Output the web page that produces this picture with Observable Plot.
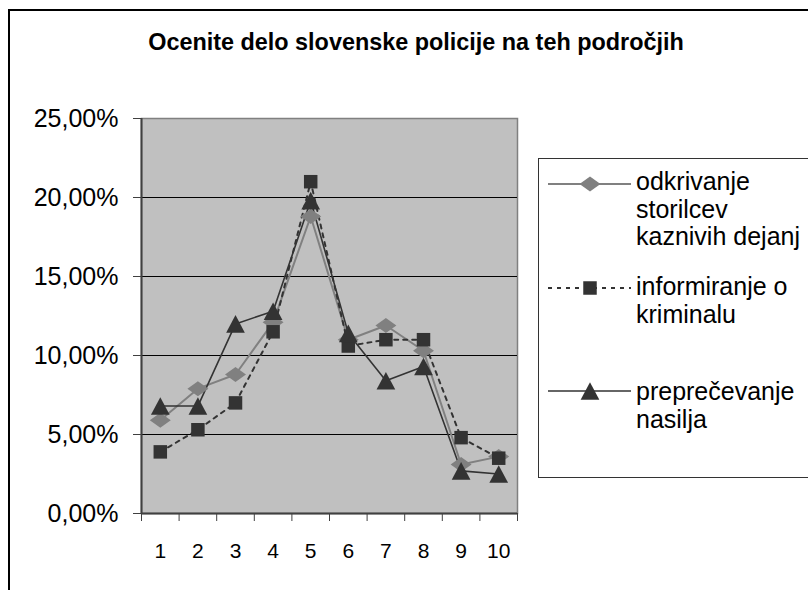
<!DOCTYPE html>
<html>
<head>
<meta charset="utf-8">
<script src="https://cdn.jsdelivr.net/npm/d3@7"></script>
<script src="https://cdn.jsdelivr.net/npm/@observablehq/plot@0.6"></script>
<style>
  html, body { margin: 0; padding: 0; background: #fff; }
  #wrap { position: relative; width: 808px; height: 590px; overflow: hidden; font-family: "Liberation Sans", Arial, sans-serif; }
  #outer { position: absolute; left: 8px; top: 9px; width: 1000px; height: 1000px; border: 2px solid #000; box-sizing: border-box; }
  #chart { position: absolute; left: 0; top: 0; }
  #title { position: absolute; left: 116px; width: 600px; top: 29px; text-align: center; font-weight: bold; font-size: 23.4px; color: #000; white-space: nowrap; }
  #legend { position: absolute; left: 538px; top: 158px; width: 400px; height: 320px; border: 1.5px solid #333; box-sizing: border-box; background: #fff; }
  .item { position: absolute; left: 0; }
  .item svg { position: absolute; left: 0; top: 0; overflow: visible; }
  .item .txt { position: absolute; left: 97px; top: 0; font-size: 25px; line-height: 27.5px; color: #000; white-space: nowrap; }
</style>
</head>
<body>
<div id="wrap">
  <div id="outer"></div>
  <div id="chart"></div>
  <div id="title"></div>
  <div id="legend"></div>
</div>
<script>
// ---- data ----
const title = "Ocenite delo slovenske policije na teh področjih";
const categories = [1, 2, 3, 4, 5, 6, 7, 8, 9, 10];
const odkrivanje = [5.9, 7.9, 8.8, 12.1, 18.8, 11.0, 11.9, 10.3, 3.1, 3.6];
const informiranje = [3.9, 5.3, 7.0, 11.5, 21.0, 10.6, 11.0, 11.0, 4.8, 3.5];
const preprecevanje = [6.8, 6.8, 12.0, 12.8, 19.8, 11.4, 8.4, 9.3, 2.7, 2.5];
const seriesNames = [
  ["odkrivanje", "storilcev", "kaznivih dejanj"],
  ["informiranje o", "kriminalu"],
  ["preprečevanje", "nasilja"]
];
const yTicks = [0, 5, 10, 15, 20, 25];
const xTickLabels = categories;

// ---- custom symbols (Excel-like) ----
const diamondW = { draw(ctx, size) { const s = Math.sqrt(size), w = 0.74 * s, h = 0.53 * s;
  ctx.moveTo(0, -h); ctx.lineTo(w, 0); ctx.lineTo(0, h); ctx.lineTo(-w, 0); ctx.closePath(); } };
const squareS = { draw(ctx, size) { const s = Math.sqrt(size), a = 0.476 * s;
  ctx.moveTo(-a, -a); ctx.lineTo(a, -a); ctx.lineTo(a, a); ctx.lineTo(-a, a); ctx.closePath(); } };
const triangleB = { draw(ctx, size) { const s = Math.sqrt(size), w = 0.66 * s, h = 0.62 * s;
  ctx.moveTo(0, -h); ctx.lineTo(w, h); ctx.lineTo(-w, h); ctx.closePath(); } };

const styles = [
  { values: odkrivanje, color: "#808080", dash: null, width: 2, symbol: diamondW },
  { values: informiranje, color: "#333333", dash: "4,5", width: 2, symbol: squareS },
  { values: preprecevanje, color: "#333333", dash: null, width: 1.6, symbol: triangleB }
];

const tables = styles.map((s, i) => categories.map((c, j) => ({ x: c, y: s.values[j], series: i })));

const R = 8;
const marks = [
  Plot.frame({ fill: "#c0c0c0", stroke: "#808080", strokeWidth: 1.5 }),
  Plot.gridY({ ticks: [5, 10, 15, 20], stroke: "#000", strokeOpacity: 1, strokeWidth: 1 }),
  Plot.ruleX([0.5], { stroke: "#404040", strokeWidth: 2 }),
  Plot.ruleY([0], { stroke: "#404040", strokeWidth: 2 }),
  Plot.axisY({ ticks: yTicks, tickSize: 8, tickPadding: 15, fontSize: 25, stroke: "#404040",
    tickFormat: d => d.toFixed(2).replace(".", ",") + "%", label: null }),
  Plot.axisX({ ticks: d3.range(0.5, 11, 1), tickSize: 8, tickFormat: () => "", stroke: "#404040", label: null }),
  Plot.axisX({ ticks: xTickLabels, tickSize: 0, tickPadding: 30, fontSize: 21, tickFormat: d => String(d), label: null })
];
styles.forEach((s, i) => {
  marks.push(Plot.line(tables[i], { x: "x", y: "y", stroke: s.color, strokeWidth: s.width,
    strokeDasharray: s.dash ?? undefined, curve: "linear" }));
});
styles.forEach((s, i) => {
  marks.push(Plot.dot(tables[i], { x: "x", y: "y", r: R, symbol: s.symbol, fill: s.color, stroke: "none" }));
});

const chart = Plot.plot({
  width: 808,
  height: 590,
  marginLeft: 141,
  marginRight: 291,
  marginTop: 118,
  marginBottom: 77,
  x: { domain: [0.5, 10.5], axis: null },
  y: { domain: [0, 25], axis: null },
  style: { background: "transparent", fontFamily: "'Liberation Sans', Arial, sans-serif", color: "#000", overflow: "visible" },
  marks
});
document.getElementById("chart").appendChild(chart);
document.getElementById("title").textContent = title;

// ---- legend ----
const legend = document.getElementById("legend");
const itemTops = [9, 114, 219];
const markerOffsets = [16, 15, 13];
styles.forEach((s, i) => {
  const item = document.createElement("div");
  item.className = "item";
  item.style.top = itemTops[i] + "px";
  const svg = d3.create("svg").attr("width", 100).attr("height", 30);
  const my = markerOffsets[i];
  svg.append("line").attr("x1", 9).attr("x2", 92).attr("y1", my).attr("y2", my)
    .attr("stroke", s.color).attr("stroke-width", s.width).attr("stroke-dasharray", s.dash);
  svg.append("path").attr("transform", `translate(51,${my})`)
    .attr("d", d3.symbol().type(s.symbol).size(Math.PI * R * R)()).attr("fill", s.color);
  item.appendChild(svg.node());
  const txt = document.createElement("div");
  txt.className = "txt";
  txt.innerHTML = seriesNames[i].join("<br>");
  item.appendChild(txt);
  legend.appendChild(item);
});
</script>
</body>
</html>
